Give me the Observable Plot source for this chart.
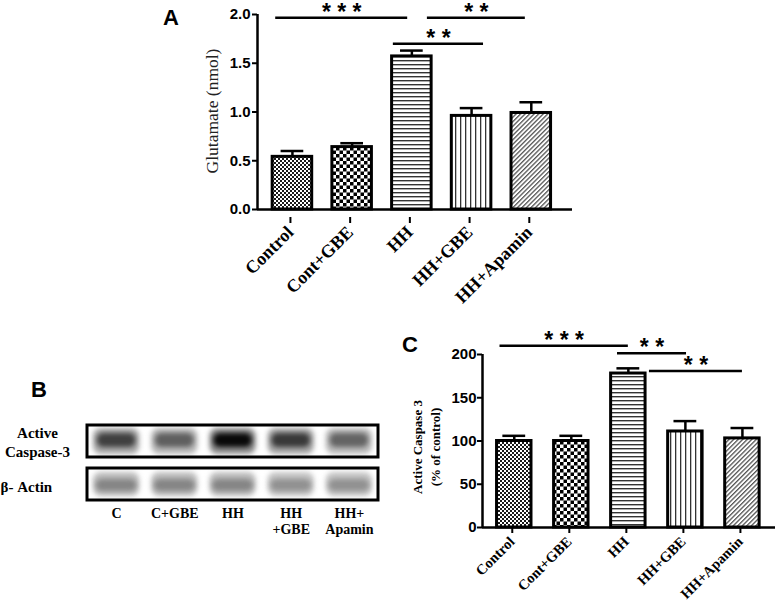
<!DOCTYPE html>
<html>
<head>
<meta charset="utf-8">
<script src="https://cdn.jsdelivr.net/npm/d3@7"></script>
<script src="https://cdn.jsdelivr.net/npm/@observablehq/plot@0.6"></script>
<style>
  html, body { margin: 0; padding: 0; background: #fff; }
  #wrap { position: relative; width: 775px; height: 604px; overflow: hidden; background: #fff; }
  .panel-letter { position: absolute; font: bold 22px "Liberation Sans", Arial, sans-serif; line-height: 1; color: #000; z-index: 5; }
  svg rect[rx] { filter: blur(2.4px); }
</style>
</head>
<body>
<svg width="0" height="0" style="position:absolute;left:0;top:0">
  <defs>
    <pattern id="pat-fine" width="4" height="4" patternUnits="userSpaceOnUse">
      <rect width="4" height="4" fill="#fff"/>
      <rect width="2" height="2" fill="#1a1a1a"/>
      <rect x="2" y="2" width="2" height="2" fill="#1a1a1a"/>
    </pattern>
    <pattern id="pat-check" width="7" height="7" patternUnits="userSpaceOnUse">
      <rect width="7" height="7" fill="#fff"/>
      <rect width="3.5" height="3.5" fill="#000"/>
      <rect x="3.5" y="3.5" width="3.5" height="3.5" fill="#000"/>
    </pattern>
    <pattern id="pat-hline" width="4" height="4" patternUnits="userSpaceOnUse">
      <rect width="4" height="4" fill="#fff"/>
      <rect width="4" height="1.4" fill="#333"/>
    </pattern>
    <pattern id="pat-vline" width="5" height="5" patternUnits="userSpaceOnUse">
      <rect width="5" height="5" fill="#fff"/>
      <rect width="1.3" height="5" fill="#333"/>
    </pattern>
    <pattern id="pat-diag" width="3.2" height="3.2" patternUnits="userSpaceOnUse" patternTransform="rotate(45)">
      <rect width="3.2" height="3.2" fill="#fff"/>
      <rect width="1.3" height="3.2" fill="#555"/>
    </pattern>
  </defs>
</svg>
<div id="wrap">
  <div class="panel-letter" style="left:163px;top:7px">A</div>
  <div class="panel-letter" style="left:31px;top:379px">B</div>
  <div class="panel-letter" style="left:402px;top:334px">C</div>
</div>
<script>
// ---------------- data ----------------
const groups = ["Control", "Cont+GBE", "HH", "HH+GBE", "HH+Apamin"];
const glutamateMean = [0.54, 0.64, 1.57, 0.96, 0.99];
const glutamateSem  = [0.06, 0.04, 0.06, 0.08, 0.11];
const glutamateTicks = [0, 0.5, 1, 1.5, 2];
const glutamateSig = [
  {from: -0.28, to: 1.93, level: 1.966, label: "***"},
  {from: 2.26,  to: 3.90, level: 1.966, label: "**"},
  {from: 1.69,  to: 3.20, level: 1.70,  label: "**"}
];

const caspaseMean = [100, 100, 178, 111, 103];
const caspaseSem  = [6, 6, 6, 12, 12];
const caspaseTicks = [0, 50, 100, 150, 200];
const caspaseSig = [
  {from: -0.25, to: 2.00, level: 210,   label: "***"},
  {from: 1.81,  to: 3.02, level: 201.5, label: "**"},
  {from: 2.37,  to: 4.00, level: 181,   label: "**"}
];

const lanes = ["C", "C+GBE", "HH", "HH\n+GBE", "HH+\nApamin"];
const blotRows = ["Active Caspase-3", "β- Actin"];
const caspaseBand = [0.80, 0.70, 0.97, 0.82, 0.68];
const actinBand   = [0.56, 0.56, 0.56, 0.52, 0.52];

// ---------------- styles ----------------
const patterns = ["pat-fine", "pat-check", "pat-hline", "pat-vline", "pat-diag"];
const SANS = "'Liberation Sans', Arial, sans-serif";
const SERIF = "'Liberation Serif', 'Times New Roman', serif";
const wrap = document.getElementById("wrap");

function layer(svg) {
  wrap.appendChild(svg);
  return svg;
}

function barPanel(cfg) {
  const rows = groups.map((g, i) => ({i, group: g, mean: cfg.means[i], sem: cfg.sems[i]}));
  const n = groups.length;
  const spaced = (s) => s.split("").join(" ");
  const marks = [
    Plot.ruleX(rows, {x: "i", y1: "mean", y2: d => d.mean + d.sem, stroke: "#000", strokeWidth: 2.5}),
    Plot.ruleY(rows, {y: d => d.mean + d.sem, x1: d => d.i - cfg.capHalf, x2: d => d.i + cfg.capHalf, stroke: "#000", strokeWidth: 2.5}),
    ...rows.map((r, k) => Plot.rectY([r], {
      x1: d => d.i - cfg.halfW, x2: d => d.i + cfg.halfW, y1: () => 0, y2: "mean",
      fill: `url(#${patterns[k]})`, stroke: "#000", strokeWidth: 3
    })),
    Plot.axisY({ticks: cfg.ticks, tickFormat: cfg.tickFormat, tickSize: cfg.tickSize, tickPadding: cfg.tickPadding,
      strokeWidth: 2, fontSize: cfg.tickFont, fontWeight: "bold", fontFamily: SANS, label: null}),
    Plot.axisX({ticks: d3.range(n), tickFormat: i => groups[i], tickRotate: -45, tickSize: 6, strokeWidth: 2,
      fontSize: cfg.xFont, fontWeight: "bold", fontFamily: SERIF, label: null, dx: cfg.xdx, dy: cfg.xdy}),
    Plot.ruleX([cfg.xDomain[0]], {y1: () => 0, y2: () => cfg.yDomain[1], stroke: "#000", strokeWidth: 2.5}),
    Plot.ruleY([0], {stroke: "#000", strokeWidth: 2.5}),
    Plot.ruleY(cfg.sig, {y: "level", x1: "from", x2: "to", stroke: "#000", strokeWidth: 2.5}),
    Plot.text(cfg.sig, {x: d => (d.from + d.to) / 2, y: "level", text: d => spaced(d.label),
      lineAnchor: "bottom", dy: cfg.starDy, fontSize: 23, fontWeight: "bold", fontFamily: SANS, fill: "#000"}),
    Plot.text([cfg.yLabel], {frameAnchor: "left", dx: cfg.labelDx, dy: cfg.labelDy, rotate: -90, textAnchor: "middle", lineAnchor: "middle",
      fontSize: cfg.labelFont, fontWeight: cfg.labelWeight, fontFamily: SERIF, fill: cfg.labelFill, lineHeight: cfg.labelLineHeight})
  ];
  return Plot.plot({
    width: 775, height: 604,
    marginLeft: cfg.left, marginRight: cfg.right, marginTop: cfg.top, marginBottom: cfg.bottom,
    x: {type: "linear", domain: cfg.xDomain},
    y: {type: "linear", domain: cfg.yDomain},
    style: {position: "absolute", left: "0", top: "0", background: "transparent", color: "#000", overflow: "visible"},
    marks
  });
}

// Panel A
layer(barPanel({
  means: glutamateMean, sems: glutamateSem, ticks: glutamateTicks, tickFormat: d3.format(".1f"),
  sig: glutamateSig, yDomain: [0, 2], xDomain: [-0.585, 4.69],
  left: 257, right: 203, top: 14, bottom: 395,
  halfW: 0.331, capHalf: 0.19, tickSize: 5, tickPadding: 2, tickFont: 15, xFont: 18,
  xdx: -2, xdy: 8, starDy: 2,
  yLabel: "Glutamate (nmol)", labelDx: -45, labelDy: -1, labelFont: 17.5, labelWeight: "normal", labelFill: "#222", labelLineHeight: 1
}));

// Panel C
layer(barPanel({
  means: caspaseMean, sems: caspaseSem, ticks: caspaseTicks, tickFormat: d => String(d),
  sig: caspaseSig, yDomain: [0, 200], xDomain: [-0.557, 4.58],
  left: 482, right: 0, top: 354, bottom: 77,
  halfW: 0.302, capHalf: 0.2, tickSize: 5, tickPadding: 1, tickFont: 15, xFont: 14.5,
  xdx: -2, xdy: 0, starDy: 2,
  yLabel: "Active Caspase 3\n(% of control)", labelDx: -57, labelDy: 6, labelFont: 13, labelWeight: "bold", labelFill: "#000", labelLineHeight: 1.38
}));

// Panel B (western blot)
const bandRows = [
  ...caspaseBand.map((v, i) => ({row: blotRows[0], lane: i, v})),
  ...actinBand.map((v, i) => ({row: blotRows[1], lane: i, v}))
];
const caspaseBands = bandRows.filter(d => d.row === blotRows[0]);
const actinBands = bandRows.filter(d => d.row === blotRows[1]);
const blotB = Plot.plot({
  width: 775, height: 604,
  marginLeft: 87, marginRight: 397, marginTop: 425, marginBottom: 104,
  x: {type: "linear", domain: [-0.5, lanes.length - 0.5], axis: null},
  y: {type: "band", domain: blotRows, paddingInner: 0.256, paddingOuter: 0, axis: null},
  style: {position: "absolute", left: "0", top: "0", background: "transparent", color: "#000", overflow: "visible"},
  marks: [
    Plot.barX(blotRows, {y: d => d, x1: () => -0.5, x2: () => lanes.length - 0.5, fill: "#fff"}),
    Plot.barX(caspaseBands, {y: "row", x1: d => d.lane - 0.40, x2: d => d.lane + 0.40, insetTop: 3, insetBottom: 3, rx: 8,
      fill: d => d3.interpolateGreys(d.v * 0.55)}),
    Plot.barX(caspaseBands, {y: "row", x1: d => d.lane - 0.33, x2: d => d.lane + 0.33, insetTop: 8, insetBottom: 10, rx: 6,
      fill: d => d3.interpolateGreys(d.v)}),
    Plot.barX(actinBands, {y: "row", x1: d => d.lane - 0.40, x2: d => d.lane + 0.40, insetTop: 4, insetBottom: 4, rx: 8,
      fill: d => d3.interpolateGreys(d.v * 0.65)}),
    Plot.barX(actinBands, {y: "row", x1: d => d.lane - 0.35, x2: d => d.lane + 0.35, insetTop: 11, insetBottom: 9, rx: 6,
      fill: d => d3.interpolateGreys(d.v)}),
    Plot.barX(blotRows, {y: d => d, x1: () => -0.5, x2: () => lanes.length - 0.5, fill: "none", stroke: "#000", strokeWidth: 3}),
    Plot.text(lanes, {x: (d, i) => i, frameAnchor: "bottom", lineAnchor: "top", dy: 7, text: d => d,
      fontSize: 14, fontWeight: "bold", fontFamily: SERIF, lineHeight: 1.1, fill: "#000"}),
    Plot.text([blotRows[0]], {y: d => d, frameAnchor: "left", dx: -50, text: () => "Active\nCaspase-3",
      textAnchor: "middle", lineAnchor: "middle", lineHeight: 1.27, fontSize: 15, fontWeight: "bold", fontFamily: SERIF, fill: "#000"}),
    Plot.text([blotRows[1]], {y: d => d, frameAnchor: "left", dx: -87, dy: 3, text: d => d,
      textAnchor: "start", lineAnchor: "middle", fontSize: 15, fontWeight: "bold", fontFamily: SERIF, fill: "#000"})
  ]
});
layer(blotB);
</script>
</body>
</html>
